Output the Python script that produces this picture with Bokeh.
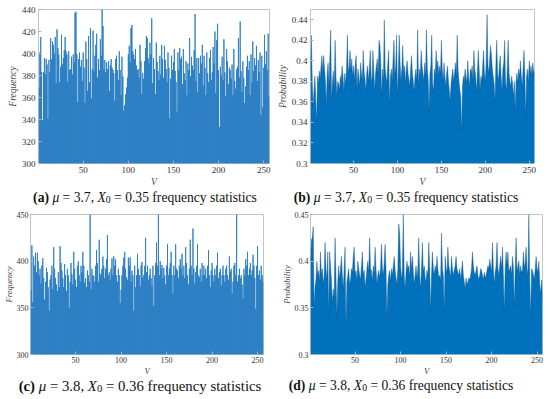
from bokeh.plotting import figure
from bokeh.models import Range1d, FixedTicker, Div
from bokeh.layouts import column, row
from bokeh.embed import file_html
from bokeh.resources import INLINE

V = list(range(1, 257))

freq_a = [
    369, 401, 415, 383, 339, 383, 396, 381, 395, 390, 341, 394, 383, 414, 395, 411,
    408, 400, 415, 373, 422, 405, 399, 374, 388, 417, 390, 396, 403, 415, 402, 399,
    374, 402, 385, 386, 397, 381, 399, 392, 437, 438, 399, 356, 395, 401, 388, 394,
    375, 401, 387, 355, 411, 395, 366, 416, 374, 423, 359, 386, 421, 384, 398, 408,
    418, 378, 395, 385, 413, 398, 440, 425, 386, 394, 383, 392, 386, 393, 366, 389,
    395, 387, 385, 382, 357, 395, 398, 385, 376, 402, 385, 362, 397, 379, 348, 353,
    363, 369, 378, 399, 407, 392, 423, 426, 402, 399, 395, 404, 389, 385, 386, 378,
    408, 393, 363, 382, 377, 393, 405, 416, 414, 396, 391, 410, 399, 432, 373, 396,
    386, 363, 410, 392, 384, 376, 398, 381, 408, 395, 378, 407, 394, 386, 374, 401,
    387, 341, 377, 398, 385, 392, 404, 384, 374, 347, 401, 385, 405, 395, 397, 372,
    404, 382, 376, 393, 362, 391, 385, 414, 379, 397, 389, 385, 403, 436, 375, 396,
    365, 396, 382, 398, 391, 408, 371, 398, 387, 362, 401, 382, 374, 396, 403, 376,
    383, 406, 391, 420, 364, 412, 427, 385, 333, 388, 380, 397, 376, 413, 383, 361,
    404, 393, 372, 387, 385, 377, 390, 362, 404, 375, 368, 386, 388, 414, 378, 429,
    384, 365, 393, 378, 355, 370, 388, 398, 385, 393, 362, 399, 374, 411, 384, 396,
    389, 407, 375, 394, 383, 401, 344, 398, 351, 387, 417, 390, 402, 385, 418, 361,
]

prob_b = [
    0.390, 0.425, 0.380, 0.355, 0.372, 0.385, 0.362, 0.340, 0.385, 0.378, 0.390, 0.382, 0.395, 0.405, 0.388, 0.405,
    0.392, 0.380, 0.355, 0.388, 0.398, 0.375, 0.402, 0.430, 0.360, 0.380, 0.390, 0.372, 0.420, 0.385, 0.365, 0.380,
    0.378, 0.372, 0.385, 0.380, 0.395, 0.385, 0.370, 0.388, 0.378, 0.392, 0.425, 0.388, 0.395, 0.410, 0.390, 0.402,
    0.385, 0.395, 0.380, 0.398, 0.405, 0.370, 0.392, 0.385, 0.375, 0.398, 0.388, 0.380, 0.410, 0.390, 0.382, 0.370,
    0.388, 0.395, 0.380, 0.392, 0.410, 0.385, 0.378, 0.410, 0.392, 0.370, 0.388, 0.395, 0.402, 0.385, 0.420, 0.415,
    0.398, 0.365, 0.392, 0.380, 0.440, 0.392, 0.385, 0.378, 0.398, 0.410, 0.355, 0.385, 0.392, 0.380, 0.402, 0.420,
    0.385, 0.395, 0.425, 0.365, 0.390, 0.425, 0.398, 0.380, 0.392, 0.415, 0.388, 0.395, 0.378, 0.392, 0.400, 0.388,
    0.382, 0.375, 0.392, 0.405, 0.388, 0.380, 0.370, 0.385, 0.392, 0.380, 0.430, 0.375, 0.392, 0.385, 0.410, 0.395,
    0.388, 0.380, 0.398, 0.385, 0.430, 0.392, 0.382, 0.350, 0.388, 0.395, 0.425, 0.378, 0.370, 0.392, 0.385, 0.410,
    0.392, 0.400, 0.385, 0.395, 0.388, 0.420, 0.392, 0.380, 0.398, 0.385, 0.375, 0.388, 0.395, 0.380, 0.372, 0.360,
    0.378, 0.385, 0.392, 0.380, 0.388, 0.398, 0.385, 0.425, 0.392, 0.380, 0.372, 0.365, 0.330, 0.375, 0.385, 0.380,
    0.392, 0.385, 0.378, 0.400, 0.385, 0.375, 0.392, 0.388, 0.395, 0.380, 0.410, 0.392, 0.385, 0.370, 0.388, 0.410,
    0.392, 0.370, 0.385, 0.380, 0.395, 0.410, 0.388, 0.380, 0.398, 0.445, 0.395, 0.388, 0.402, 0.415, 0.405, 0.392,
    0.385, 0.378, 0.360, 0.395, 0.420, 0.388, 0.380, 0.395, 0.405, 0.385, 0.370, 0.392, 0.398, 0.420, 0.380, 0.370,
    0.392, 0.420, 0.388, 0.380, 0.375, 0.385, 0.378, 0.365, 0.380, 0.350, 0.380, 0.388, 0.378, 0.392, 0.385, 0.400,
    0.385, 0.375, 0.392, 0.410, 0.388, 0.345, 0.385, 0.392, 0.378, 0.400, 0.388, 0.395, 0.385, 0.398, 0.390, 0.387,
]

freq_c = [
    369, 417, 356, 405, 395, 409, 388, 409, 400, 385, 392, 376, 395, 403, 382, 359,
    378, 393, 388, 372, 347, 380, 385, 395, 370, 415, 392, 382, 375, 368, 388, 372,
    416, 398, 390, 382, 372, 397, 385, 368, 392, 385, 350, 378, 398, 386, 375, 410,
    392, 380, 372, 395, 400, 385, 378, 395, 388, 410, 395, 377, 382, 372, 390, 385,
    378, 450, 370, 392, 385, 384, 378, 395, 412, 398, 378, 423, 385, 387, 392, 405,
    395, 382, 392, 402, 428, 385, 388, 380, 392, 403, 385, 405, 395, 402, 385, 378,
    392, 385, 355, 369, 385, 395, 404, 410, 392, 383, 380, 404, 395, 404, 378, 390,
    385, 347, 395, 372, 385, 408, 392, 385, 373, 395, 399, 382, 385, 395, 425, 388,
    395, 380, 385, 392, 382, 373, 395, 352, 385, 398, 420, 395, 450, 385, 400, 392,
    396, 382, 393, 385, 375, 395, 418, 385, 392, 398, 410, 385, 365, 395, 385, 418,
    392, 390, 382, 395, 402, 392, 408, 385, 395, 382, 415, 398, 385, 375, 392, 423,
    395, 385, 435, 392, 376, 388, 395, 418, 385, 383, 392, 378, 398, 385, 395, 385,
    392, 382, 395, 412, 385, 372, 390, 398, 385, 378, 392, 385, 395, 409, 382, 388,
    392, 374, 385, 395, 385, 378, 392, 395, 385, 380, 405, 389, 392, 365, 378, 395,
    398, 385, 451, 378, 385, 392, 382, 385, 375, 360, 392, 385, 402, 395, 410, 385,
    392, 398, 385, 390, 407, 395, 382, 349, 395, 416, 385, 390, 380, 395, 385, 378,
]

prob_d = [
    0.400, 0.423, 0.425, 0.437, 0.350, 0.372, 0.380, 0.400, 0.385, 0.390, 0.378, 0.410, 0.385, 0.392, 0.375, 0.385,
    0.420, 0.392, 0.380, 0.410, 0.340, 0.410, 0.395, 0.380, 0.355, 0.370, 0.360, 0.425, 0.385, 0.340, 0.378, 0.395,
    0.380, 0.392, 0.405, 0.385, 0.370, 0.392, 0.415, 0.325, 0.378, 0.385, 0.392, 0.375, 0.380, 0.392, 0.388, 0.405,
    0.415, 0.385, 0.390, 0.378, 0.400, 0.392, 0.385, 0.380, 0.395, 0.410, 0.385, 0.390, 0.372, 0.380, 0.392, 0.400,
    0.388, 0.425, 0.392, 0.390, 0.378, 0.395, 0.385, 0.415, 0.392, 0.375, 0.385, 0.390, 0.382, 0.392, 0.418, 0.392,
    0.385, 0.398, 0.418, 0.392, 0.338, 0.375, 0.385, 0.390, 0.378, 0.392, 0.385, 0.395, 0.405, 0.390, 0.382, 0.375,
    0.392, 0.440, 0.430, 0.395, 0.380, 0.392, 0.450, 0.385, 0.370, 0.388, 0.400, 0.392, 0.395, 0.382, 0.410, 0.392,
    0.405, 0.388, 0.375, 0.385, 0.395, 0.382, 0.392, 0.425, 0.385, 0.370, 0.392, 0.420, 0.388, 0.395, 0.382, 0.378,
    0.390, 0.385, 0.420, 0.392, 0.345, 0.385, 0.410, 0.392, 0.385, 0.395, 0.388, 0.405, 0.392, 0.382, 0.385, 0.378,
    0.430, 0.392, 0.385, 0.345, 0.405, 0.392, 0.388, 0.415, 0.395, 0.390, 0.382, 0.405, 0.392, 0.385, 0.390, 0.395,
    0.405, 0.392, 0.388, 0.385, 0.392, 0.380, 0.390, 0.400, 0.385, 0.378, 0.370, 0.382, 0.375, 0.378, 0.382, 0.380,
    0.385, 0.392, 0.410, 0.395, 0.388, 0.385, 0.390, 0.395, 0.385, 0.380, 0.385, 0.392, 0.390, 0.385, 0.380, 0.388,
    0.382, 0.385, 0.390, 0.395, 0.392, 0.402, 0.395, 0.388, 0.420, 0.392, 0.375, 0.388, 0.395, 0.420, 0.392, 0.385,
    0.395, 0.405, 0.392, 0.415, 0.385, 0.345, 0.392, 0.410, 0.395, 0.410, 0.388, 0.392, 0.395, 0.385, 0.405, 0.392,
    0.350, 0.392, 0.425, 0.388, 0.395, 0.400, 0.385, 0.395, 0.388, 0.390, 0.410, 0.392, 0.400, 0.415, 0.392, 0.385,
    0.450, 0.380, 0.340, 0.392, 0.390, 0.385, 0.380, 0.392, 0.405, 0.392, 0.388, 0.400, 0.375, 0.365, 0.380, 0.360,
]

for arr in (freq_a, prob_b, freq_c, prob_d):
    assert len(arr) == 256, len(arr)

x_ticks = [50, 100, 150, 200, 250]
yticks_a = [300, 320, 340, 360, 380, 400, 420, 440]
yticks_b = [0.30, 0.32, 0.34, 0.36, 0.38, 0.40, 0.42, 0.44]
ylabels_b = ["0.3", "0.32", "0.34", "0.36", "0.38", "0.4", "0.42", "0.44"]
yticks_c = [300, 350, 400, 450]
yticks_d = [0.30, 0.35, 0.40, 0.45]
ylabels_d = ["0.3", "0.35", "0.4", "0.45"]

SUB0 = '<span style="font-size:72%;position:relative;top:1px">0</span>'
cap_a = '<b>(a)</b> <i>&mu;</i> = 3.7, <i>X</i>' + SUB0 + ' = 0.35 frequency statistics'
cap_b = '<b>(b)</b> <i>&mu;</i> = 3.7, <i>X</i>' + SUB0 + ' = 0.35 frequency statistics'
cap_c = '<b>(c)</b> <i>&mu;</i> = 3.8, <i>X</i>' + SUB0 + ' = 0.36 frequency statistics'
cap_d = '<b>(d)</b> <i>&mu;</i> = 3.8, <i>X</i>' + SUB0 + ' = 0.36 frequency statistics'

BLUE = "#0072BD"
BAR_BLUE = "#2f80c4"
FONT = "Liberation Serif"


def style(p, xt, yt, ylabels, ylab, tick_fs, lab_fs, so=3, aso=1):
    p.xgrid.visible = False
    p.ygrid.visible = False
    p.outline_line_color = "#c4c4c4"
    p.outline_line_width = 1
    p.background_fill_color = "white"
    p.border_fill_color = "white"
    for ax in (p.xaxis[0], p.yaxis[0]):
        ax.axis_line_color = None
        ax.major_tick_in = 3
        ax.major_tick_out = 0
        ax.minor_tick_line_color = None
        ax.major_tick_line_color = "#b0b0b0"
        ax.major_label_text_font = FONT
        ax.major_label_text_font_size = tick_fs
        ax.major_label_text_color = "#333333"
        ax.axis_label_text_font = FONT
        ax.axis_label_text_font_style = "italic"
        ax.axis_label_text_font_size = lab_fs
        ax.axis_label_text_color = "#444444"
        ax.major_label_standoff = so
        ax.axis_label_standoff = aso
    p.xaxis.ticker = FixedTicker(ticks=xt)
    p.yaxis.ticker = FixedTicker(ticks=yt)
    if ylabels is not None:
        p.yaxis.major_label_overrides = {t: l for t, l in zip(yt, ylabels)}
    p.xaxis.axis_label = "V"
    p.yaxis.axis_label = ylab


def mk(width, height, xr, yr, bl, bt, br, bb):
    return figure(width=width, height=height, x_range=xr, y_range=yr,
                  output_backend="svg", toolbar_location=None,
                  min_border_left=bl, min_border_top=bt, min_border_right=br,
                  min_border_bottom=bb)


def bars(p, vals, base):
    # continuous silhouette underneath (avoids seams between sub-pixel bars)
    p.varea_step(x=V, y1=base, y2=vals, step_mode="center", fill_color=BAR_BLUE)
    p.vbar(x=V, top=vals, bottom=base, width=1.0, fill_color=BAR_BLUE, line_color=None)


# row 1: frames at y 9..165
pa = mk(274, 189, Range1d(0.5, 256.5), Range1d(300, 440), 38, 9, 5, 24)
bars(pa, freq_a, 300)
style(pa, x_ticks, yticks_a, None, "Frequency", "9px", "9.5px")

pb = mk(276, 189, Range1d(1, 256), Range1d(0.3, 0.45), 30, 9, 16, 24)
pb.varea(x=V, y1=0.3, y2=prob_b, fill_color=BLUE)
pb.line(x=V, y=prob_b, line_color="#0b4f85", line_width=0.4)
style(pb, x_ticks, yticks_b, ylabels_b, "Probability", "9px", "9.5px")

# row 2: frames at y 214..356
pc = mk(278, 171, Range1d(0.5, 256.5), Range1d(300, 450), 29, 7, 15, 22)
bars(pc, freq_c, 300)
style(pc, x_ticks, yticks_c, None, "Frequency", "8px", "8.5px", 2, 0)

pd_ = mk(272, 171, Range1d(1, 256), Range1d(0.3, 0.45), 31, 7, 8, 22)
pd_.varea(x=V, y1=0.3, y2=prob_d, fill_color=BLUE)
pd_.line(x=V, y=prob_d, line_color="#0b4f85", line_width=0.4)
style(pd_, x_ticks, yticks_d, ylabels_d, "Probability", "8px", "8.5px", 2, 0)


def cap(html, width, height, fs, pad_l=0, pad_r=0):
    txt = ('<div style="width:%dpx;text-align:center;font-family:\'Liberation Serif\';'
           'font-size:%s;line-height:%dpx;color:#111;white-space:nowrap;'
           'padding-left:%dpx;padding-right:%dpx;box-sizing:border-box">%s</div>'
           % (width, fs, height, pad_l, pad_r, html))
    return Div(text=txt, width=width, height=height, margin=(0, 0, 0, 0))


da = cap(cap_a, 274, 18, "13.6px", 16, 0)
db = cap(cap_b, 276, 18, "13.6px", 0, 12)
dc = cap(cap_c, 278, 16, "14.8px", 2, 0)
dd = cap(cap_d, 272, 16, "13.6px", 0, 26)

for obj in (pa, pb, pc, pd_):
    obj.margin = (0, 0, 0, 0)

layout = column(row(pa, pb, spacing=0), row(da, db, spacing=0),
                row(pc, pd_, spacing=0), row(dc, dd, spacing=0), spacing=0)

open("out.html", "w").write(file_html(layout, INLINE))
